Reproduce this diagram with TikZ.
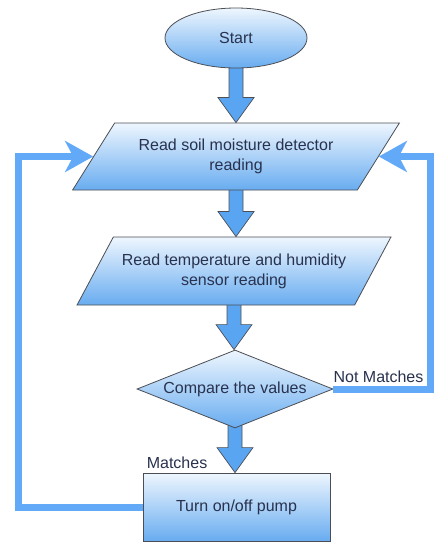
\documentclass[tikz,border=0pt]{standalone}
\usepackage{fontspec}
\setmainfont{Liberation Sans}
\usetikzlibrary{positioning}
\usetikzlibrary{calc}
\usetikzlibrary{arrows.meta}
\usetikzlibrary{shapes.geometric}
\usetikzlibrary{backgrounds}
\definecolor{boxtop}{RGB}{238,246,254}
\definecolor{boxbot}{RGB}{104,172,240}
\definecolor{edgegray}{RGB}{75,78,84}
\definecolor{arrowblue}{RGB}{90,165,242}
\definecolor{loopblue}{RGB}{98,170,248}
\definecolor{textnavy}{RGB}{40,50,78}
\tikzset{
  flowbox/.style={draw=edgegray, line width=0.8pt, top color=boxtop, bottom color=boxbot,
    text=textnavy, align=center, inner sep=0pt, font=\fontsize{16}{20}\selectfont},
  inout/.style={flowbox, trapezium, trapezium stretches=true,
    trapezium left angle=46, trapezium right angle=134},
  blockarrow/.style={draw=edgegray, fill=arrowblue, line width=0.7pt,
    to path={let \p1=(\tikztostart), \p2=(\tikztotarget) in
      (\x1-7pt,\y1+6pt) -- (\x1-7pt,\y2+25pt) -- (\x1-18pt,\y2+25pt) -- (\x1,\y2)
      -- (\x1+18pt,\y2+25pt) -- (\x1+7pt,\y2+25pt) -- (\x1+7pt,\y1+6pt)}},
  loopline/.style={draw=loopblue, line width=7pt, miter limit=4,
    -{Stealth[length=28pt, width=31pt, inset=8pt]}},
  tag/.style={text=textnavy, inner sep=0pt, font=\fontsize{16}{20}\selectfont}
}

\begin{document}
\begin{tikzpicture}[x=1pt, y=1pt]
    \useasboundingbox (0,0) rectangle (437,-542);

    \node[flowbox, ellipse, minimum width=142pt, minimum height=60pt] (start) at (236,-38) {Start};
    \node[inout, minimum width=328pt, minimum height=67pt] (read1) at (236,-156.5)
        {Read soil moisture detector\\reading};
    \node[inout, minimum width=315pt, minimum height=68pt] (read2) at (234,-271)
        {Read temperature and humidity\\sensor reading};
    \node[flowbox, diamond, aspect=2.6, minimum width=196pt, minimum height=78pt] (compare) at (235,-389)
        {Compare the values};
    \node[flowbox, rectangle, minimum width=187pt, minimum height=68pt] (pump) at (236.5,-507)
        {Turn on/off pump};

    \node[tag, above right=6pt and 0pt of compare.east] (nomatch) {Not Matches};
    \node[tag, above right=4pt and 4pt of pump.north west] (match) {Matches};

    \begin{scope}[on background layer]
        \draw[blockarrow] (start.south) to (read1.north);
        \draw[blockarrow] (read1.south) to (read2.north);
        \draw[blockarrow] (read2.south) to (compare.north);
        \draw[blockarrow] (compare.south) to (pump.north);
    \end{scope}

    % feedback loops
    \draw[loopline] (pump.west) -- ++(-124,0) |- (read1.west);
    \draw[loopline] (compare.east) -- ++(97,0) |- (read1.east);
\end{tikzpicture}
\end{document}
